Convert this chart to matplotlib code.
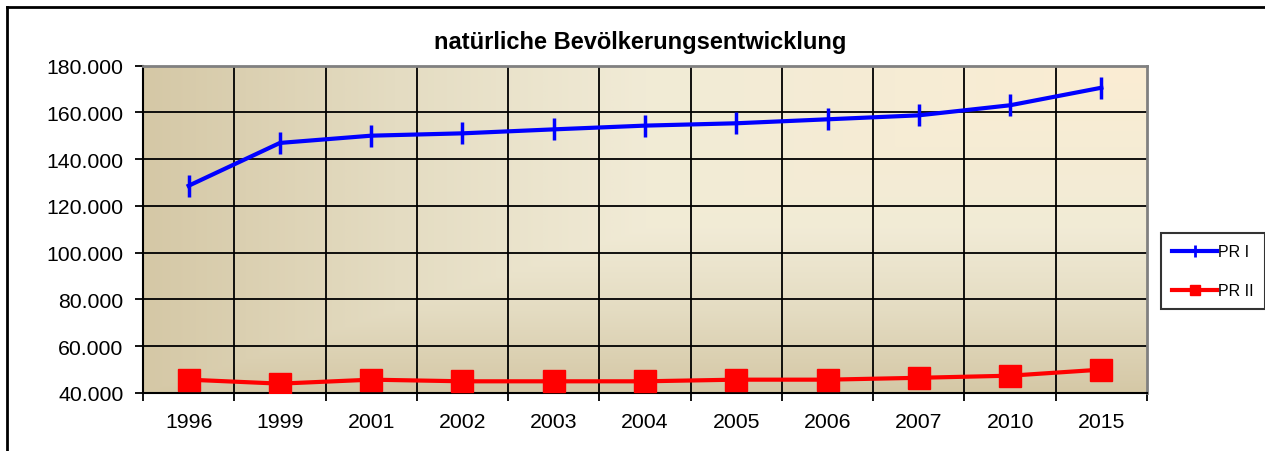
import numpy as np
import matplotlib
matplotlib.use("Agg")
import matplotlib.pyplot as plt
from matplotlib.colors import LinearSegmentedColormap
from matplotlib.ticker import FuncFormatter
from matplotlib.lines import Line2D

years = ["1996", "1999", "2001", "2002", "2003", "2004", "2005", "2006", "2007", "2010", "2015"]
pr1 = [128600, 146900, 150000, 151000, 152700, 154300, 155300, 157000, 158700, 163000, 170500]
pr2 = [45700, 44000, 45700, 45000, 45000, 45000, 45700, 45700, 46500, 47400, 50000]
title = "natürliche Bevölkerungsentwicklung"
yticks = [40000, 60000, 80000, 100000, 120000, 140000, 160000, 180000]

plt.rcParams['font.family'] = ['Liberation Sans', 'DejaVu Sans']

fig = plt.figure(figsize=(12.65, 4.52), dpi=100)
W, H = 1265, 452
left, right, top, bottom = 143, 1147, 66.5, 394
ax = fig.add_axes([left / W, 1 - bottom / H, (right - left) / W, (bottom - top) / H])

x = np.arange(len(years))

# gradient background (rectangular, from top-right corner)
nx, ny = 400, 200
gx = np.linspace(1, 0, nx)[None, :]
gy = np.linspace(0, 1, ny)[:, None]
t = np.maximum(np.repeat(gx, ny, 0), np.repeat(gy, nx, 1))
cmap = LinearSegmentedColormap.from_list("bg", [
    (0.0, (251/255, 237/255, 211/255)),
    (0.5, (241/255, 235/255, 214/255)),
    (0.75, (228/255, 220/255, 194/255)),
    (1.0, (213/255, 200/255, 166/255)),
])
ax.imshow(t, cmap=cmap, vmin=0, vmax=1, aspect='auto', extent=[0, 1, 0, 1],
          transform=ax.transAxes, zorder=0, interpolation='bilinear')

ax.set_xlim(-0.5, len(years) - 0.5)
ax.set_ylim(40000, 180000)

# grid
for yv in yticks[1:-1]:
    ax.axhline(yv, color='black', lw=1.3, zorder=1)
for xv in np.arange(0.5, len(years) - 0.5, 1):
    ax.axvline(xv, color='black', lw=1.3, zorder=1)

ax.plot(x, pr1, color='#0000ff', lw=3, marker='|', markersize=16, markeredgewidth=2.5,
        zorder=3, label='PR I')
ax.plot(x, pr2, color='#ff0000', lw=3, marker='s', markersize=16, zorder=3, label='PR II')

ax.set_yticks(yticks)
ax.yaxis.set_major_formatter(FuncFormatter(lambda v, p: f"{int(v):,}".replace(",", ".")))
ax.set_xticks(x)
ax.set_xticklabels(years)
ax.set_xticks(np.arange(-0.5, len(years), 1), minor=True)
ax.tick_params(axis='x', which='major', length=0, pad=14, labelsize=15.3)
ax.tick_params(axis='x', which='minor', length=6, width=1.3, color='black', direction='out')
ax.tick_params(axis='y', length=6, width=1.3, direction='out', pad=8, labelsize=15.3)

for s in ['top', 'right']:
    ax.spines[s].set_color('#808080')
    ax.spines[s].set_linewidth(2)
for s in ['left', 'bottom']:
    ax.spines[s].set_color('black')
    ax.spines[s].set_linewidth(1.5)

fig.text(640 / W, 1 - 42 / H, title, ha='center', va='center', fontsize=17, fontweight='bold')

# frame (top and left edges)
fig.add_artist(Line2D([7 / W, 7 / W], [0, 1 - 8 / H], color='black', lw=2, transform=fig.transFigure))
fig.add_artist(Line2D([7 / W, 1], [1 - 8 / H, 1 - 8 / H], color='black', lw=2, transform=fig.transFigure))

h1 = Line2D([], [], color='#0000ff', lw=3, marker='|', markersize=9, markeredgewidth=2)
h2 = Line2D([], [], color='#ff0000', lw=3, marker='s', markersize=7)
leg = fig.legend([h1, h2], ['PR I', 'PR II'], loc='upper left',
                 bbox_to_anchor=(1161 / W, 1 - 234 / H), fontsize=11.5,
                 frameon=True, fancybox=False, edgecolor='black', handlelength=2.8,
                 handletextpad=0.1, borderpad=0.7, borderaxespad=0, labelspacing=1.5)
leg._legend_box.sep = 0
leg.get_frame().set_linewidth(1.5)
fig.canvas.draw()
bb = leg.get_window_extent()
if bb.x1 > 1259:
    leg.set_bbox_to_anchor((1161 / W - (bb.x1 - 1259) / W * 0, 1 - 234 / H))
    leg.borderpad = 0.5

fig.savefig("out.png", dpi=100, facecolor='white')
